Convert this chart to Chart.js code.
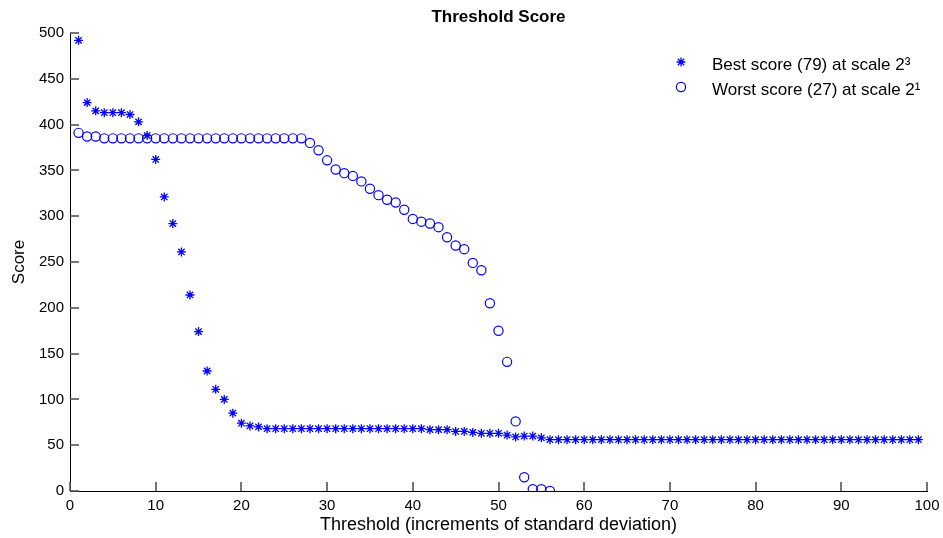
<!DOCTYPE html>
<html>
<head>
<meta charset="utf-8">
<title>Threshold Score</title>
<script src="https://cdn.jsdelivr.net/npm/chart.js@4.4.1/dist/chart.umd.min.js"></script>
<style>
  html, body { margin: 0; padding: 0; background: #fff; }
  canvas { display: block; }
</style>
</head>
<body>
<canvas id="scoreChart" width="943" height="538"></canvas>
<script>
// thresholds, in increments of standard deviation
let bestThreshold = [
    1, 2, 3, 4, 5, 6, 7, 8, 9, 10, 11, 12, 13, 14, 15, 16, 17, 18, 19, 20,
    21, 22, 23, 24, 25, 26, 27, 28, 29, 30, 31, 32, 33, 34, 35, 36, 37, 38, 39, 40,
    41, 42, 43, 44, 45, 46, 47, 48, 49, 50, 51, 52, 53, 54, 55, 56, 57, 58, 59, 60,
    61, 62, 63, 64, 65, 66, 67, 68, 69, 70, 71, 72, 73, 74, 75, 76, 77, 78, 79, 80,
    81, 82, 83, 84, 85, 86, 87, 88, 89, 90, 91, 92, 93, 94, 95, 96, 97, 98, 99
];
let bestScore = [
    492, 424, 415, 413, 413, 413, 411, 403, 388, 362, 321, 292, 261, 214, 174, 131, 111, 100, 85, 74,
    71, 70, 68, 68, 68, 68, 68, 68, 68, 68, 68, 68, 68, 68, 68, 68, 68, 68, 68, 68,
    68, 67, 67, 67, 65, 65, 64, 63, 63, 63, 61, 59, 60, 60, 58, 56, 56, 56, 56, 56,
    56, 56, 56, 56, 56, 56, 56, 56, 56, 56, 56, 56, 56, 56, 56, 56, 56, 56, 56, 56,
    56, 56, 56, 56, 56, 56, 56, 56, 56, 56, 56, 56, 56, 56, 56, 56, 56, 56, 56
];
let worstThreshold = [
    1, 2, 3, 4, 5, 6, 7, 8, 9, 10, 11, 12, 13, 14, 15, 16, 17, 18, 19, 20,
    21, 22, 23, 24, 25, 26, 27, 28, 29, 30, 31, 32, 33, 34, 35, 36, 37, 38, 39, 40,
    41, 42, 43, 44, 45, 46, 47, 48, 49, 50, 51, 52, 53, 54, 55, 56
];
let worstScore = [
    391, 387, 387, 385, 385, 385, 385, 385, 385, 385, 385, 385, 385, 385, 385, 385, 385, 385, 385, 385,
    385, 385, 385, 385, 385, 385, 385, 380, 372, 361, 351, 347, 344, 338, 330, 323, 318, 315, 307, 297,
    294, 292, 288, 277, 268, 264, 249, 241, 205, 175, 141, 76, 15, 2, 2, 0
];
let chartTitle = "Threshold Score";
let bestLabel = "Best score (79) at scale 2\u00B3";
let worstLabel = "Worst score (27) at scale 2\u00B9";
let xTicks = [0, 10, 20, 30, 40, 50, 60, 70, 80, 90, 100];
let yTicks = [0, 50, 100, 150, 200, 250, 300, 350, 400, 450, 500];

const FONT = "'Liberation Sans', Arial, Helvetica, sans-serif";
const BLUE = "#0000ff";
const TICK_LEN = 9;

function toPoints(xs, ys) {
    return xs.map((x, i) => ({ x: x, y: ys[i] }));
}

// matlab style ticks pointing into the plot, then title and a frameless legend
const overlay = {
    id: "overlay",
    afterDraw(chart) {
        let c = chart.ctx;
        let area = chart.chartArea;
        let xs = chart.scales.x, ys = chart.scales.y;
        c.save();
        c.fillStyle = "#555";
        xTicks.forEach(v => {
            let px = Math.round(xs.getPixelForValue(v));
            c.fillRect(px - 0.8, area.bottom - TICK_LEN, 1.6, TICK_LEN);
        });
        yTicks.forEach(v => {
            let py = Math.round(ys.getPixelForValue(v));
            c.fillRect(area.left, py - 0.8, TICK_LEN, 1.6);
        });

        c.fillStyle = "#000";
        c.font = "bold 17px " + FONT;
        c.textAlign = "center";
        c.textBaseline = "middle";
        c.fillText(chartTitle, (area.left + area.right) / 2, 17);

        chart.data.datasets.forEach((ds, i) => {
            let y = 62 + i * 25;
            c.strokeStyle = ds.borderColor;
            c.fillStyle = ds.backgroundColor;
            c.lineWidth = ds.borderWidth;
            Chart.helpers.drawPoint(c, {
                pointStyle: ds.pointStyle,
                radius: ds.pointRadius,
                rotation: 0,
                borderWidth: ds.borderWidth
            }, 681, y);
            c.fillStyle = "#000";
            c.font = "17px " + FONT;
            c.textBaseline = "middle";
            c.textAlign = "left";
            c.fillText(ds.label, 712, y + 3);
        });
        c.restore();
    }
};

let ctx = document.getElementById("scoreChart").getContext("2d");
let chart = new Chart(ctx, {
    type: "scatter",
    data: {
        datasets: [{
            label: bestLabel,
            data: toPoints(bestThreshold, bestScore),
            pointStyle: "star",
            pointRadius: 4.5,
            borderColor: BLUE,
            backgroundColor: BLUE,
            borderWidth: 1.3
        }, {
            label: worstLabel,
            data: toPoints(worstThreshold, worstScore),
            pointStyle: "circle",
            pointRadius: 4.6,
            borderColor: BLUE,
            backgroundColor: "rgba(0,0,0,0)",
            borderWidth: 1.2
        }]
    },
    options: {
        responsive: false,
        animation: false,
        events: [],
        layout: { padding: { left: 0, right: 16, top: 33, bottom: 0 } },
        plugins: {
            legend: { display: false },
            tooltip: { enabled: false },
            title: { display: false }
        },
        scales: {
            x: {
                type: "linear",
                min: 0,
                max: 100,
                afterBuildTicks: s => { s.ticks = xTicks.map(v => ({ value: v })); },
                afterFit: s => { s.height = 47; s.paddingLeft = 0; s.paddingRight = 0; },
                ticks: { color: "#000", font: { family: FONT, size: 15 }, padding: 6, maxRotation: 0 },
                grid: { display: true, drawOnChartArea: false, drawTicks: false },
                border: { display: true, color: "#000", width: 1 },
                title: {
                    display: true,
                    text: "Threshold (increments of standard deviation)",
                    color: "#000",
                    font: { family: FONT, size: 18 },
                    padding: { top: 0, bottom: 2 }
                }
            },
            y: {
                type: "linear",
                min: 0,
                max: 500,
                afterBuildTicks: s => { s.ticks = yTicks.map(v => ({ value: v })); },
                afterFit: s => { s.width = 70; s.paddingTop = 0; s.paddingBottom = 0; },
                ticks: { color: "#000", font: { family: FONT, size: 15 }, padding: 6 },
                grid: { display: true, drawOnChartArea: false, drawTicks: false },
                border: { display: true, color: "#000", width: 1 },
                title: {
                    display: true,
                    text: "Score",
                    color: "#000",
                    font: { family: FONT, size: 17 },
                    padding: { top: 9, bottom: 0 }
                }
            }
        }
    },
    plugins: [overlay]
});
</script>
</body>
</html>
